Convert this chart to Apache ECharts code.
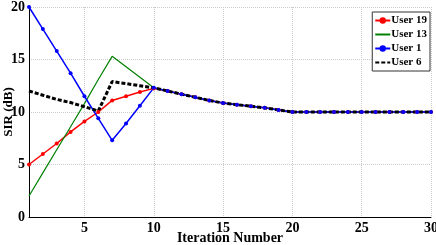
<!DOCTYPE html>
<html>
<head>
<meta charset="utf-8">
<script src="https://cdn.jsdelivr.net/npm/echarts@6/dist/echarts.min.js"></script>
<style>
  html, body { margin: 0; padding: 0; background: #fff; }
  #chart { width: 436px; height: 245px; }
</style>
</head>
<body>
<div id="chart"></div>
<script>
var iterations = [1,2,3,4,5,6,7,8,9,10,11,12,13,14,15,16,17,18,19,20,21,22,23,24,25,26,27,28,29,30];
var tail = [12.0,11.7,11.4,11.1,10.85,10.7,10.55,10.4,10.2,10,10,10,10,10,10,10,10,10,10,10];
var user19 = [5,6,7,8.1,9.1,10,11.1,11.5,11.9,12.25].concat(tail);
var user13 = [2,4.2,6.4,8.6,10.8,13.1,15.3,14.3,13.3,12.3].concat(tail);
var user1 = [20,17.9,15.8,13.7,11.5,9.4,7.3,8.9,10.6,12.3].concat(tail);
var user6 = [12,11.6,11.2,10.9,10.5,10.1,12.9,12.7,12.5,12.3].concat(tail);
var xTicks = [5,10,15,20,25,30];
var legendNames = ["User 19", "User 13", "User 1", "User 6"];

function pairs(vals) {
  return iterations.map(function (x, i) { return [x, vals[i]]; });
}

var myChart = echarts.init(document.getElementById("chart"));
var font = "'Liberation Serif', 'DejaVu Serif', serif";
var option = {
  animation: false,
  grid: { left: 29, right: 5, top: 7, bottom: 28, outerBoundsMode: "none", containLabel: false },
  legend: {
    data: [
      { name: legendNames[0] },
      { name: legendNames[1], itemStyle: { opacity: 0 } },
      { name: legendNames[2] },
      { name: legendNames[3], itemStyle: { opacity: 0 } }
    ],
    orient: "vertical",
    right: 6,
    top: 12,
    itemWidth: 15,
    itemHeight: 8,
    itemGap: 3,
    padding: [3, 3, 3, 2],
    borderColor: "#333",
    borderWidth: 1,
    backgroundColor: "#fff",
    textStyle: { fontFamily: font, fontWeight: "bold", fontSize: 11, color: "#000", padding: [0, 0, 0, -4] }
  },
  xAxis: {
    type: "value",
    min: 1,
    max: 30,
    name: "Iteration Number",
    nameLocation: "middle",
    nameGap: 14,
    nameMoveOverlap: false,
    nameTextStyle: { fontFamily: font, fontWeight: "bold", fontSize: 14, color: "#000" },
    axisLine: { lineStyle: { color: "#000", width: 1 } },
    axisTick: { show: false, customValues: xTicks },
    axisLabel: { customValues: xTicks, fontFamily: font, fontWeight: "bold", fontSize: 14, color: "#000", margin: 4 },
    splitLine: { show: true, lineStyle: { color: "#ccc", type: "dotted", width: 1 } }
  },
  yAxis: {
    type: "value",
    min: 0,
    max: 20,
    interval: 5,
    name: "SIR (dB)",
    nameLocation: "middle",
    nameGap: 14,
    nameMoveOverlap: false,
    nameTextStyle: { fontFamily: font, fontWeight: "bold", fontSize: 13, color: "#000" },
    axisLine: { show: true, lineStyle: { color: "#000", width: 1 } },
    axisTick: { show: false },
    axisLabel: { fontFamily: font, fontWeight: "bold", fontSize: 14, color: "#000", margin: 4 },
    splitLine: { show: true, lineStyle: { color: "#ccc", type: "dotted", width: 1 } }
  },
  series: [
    {
      name: legendNames[0],
      type: "line",
      data: pairs(user19),
      symbol: "circle",
      symbolSize: 4,
      itemStyle: { color: "#f00" },
      lineStyle: { color: "#f00", width: 1.5 }
    },
    {
      name: legendNames[1],
      type: "line",
      data: pairs(user13),
      symbol: "none",
      itemStyle: { color: "#008000" },
      lineStyle: { color: "#008000", width: 1.2 }
    },
    {
      name: legendNames[2],
      type: "line",
      data: pairs(user1),
      symbol: "circle",
      symbolSize: 4,
      itemStyle: { color: "#00f" },
      lineStyle: { color: "#00f", width: 1.5 }
    },
    {
      name: legendNames[3],
      type: "line",
      data: pairs(user6),
      symbol: "none",
      itemStyle: { color: "#000" },
      lineStyle: { color: "#000", width: 3, type: [4, 2] }
    }
  ]
};
myChart.setOption(option);
</script>
</body>
</html>
